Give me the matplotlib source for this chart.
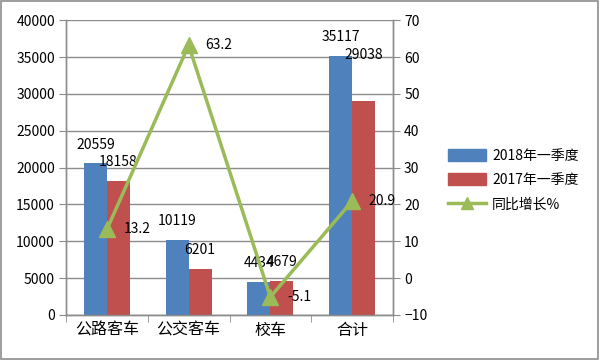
import numpy as np
import matplotlib
matplotlib.use("Agg")
import matplotlib.pyplot as plt
from matplotlib.patches import Rectangle
from matplotlib.lines import Line2D
from matplotlib.patches import Patch

plt.rcParams['font.family'] = ['Noto Sans CJK SC', 'DejaVu Sans']

categories = ['公路客车', '公交客车', '校车', '合计']
sales_2018 = [20559, 10119, 4434, 35117]
sales_2017 = [18158, 6201, 4679, 29038]
growth = [13.2, 63.2, -5.1, 20.9]

series_names = ['2018年一季度', '2017年一季度', '同比增长%']

# label offsets above bar tops, in points
offs_2018 = [13, 14, 14, 14]
offs_2017 = [14, 14, 13, 33]

blue = '#4F81BD'
red = '#C0504D'
green = '#9BBB59'
grid_col = '#8C8C8C'

fig = plt.figure(figsize=(6, 3.6), dpi=100)
ax = fig.add_axes([0.11, 0.125, 0.545, 0.819])
ax2 = ax.twinx()

x = np.arange(len(categories))
w = 0.28
ax.bar(x - w / 2, sales_2018, w, color=blue, zorder=3)
ax.bar(x + w / 2, sales_2017, w, color=red, zorder=3)

ax.set_ylim(0, 40000)
ax.set_yticks(np.arange(0, 40001, 5000))
ax.set_xlim(-0.5, len(categories) - 0.5)
ax.set_xticks(x)
ax.set_xticklabels(categories, fontsize=11.5)
ax.set_xticks(np.arange(-0.5, len(categories)), minor=True)
ax.tick_params(axis='x', which='major', length=0, pad=5)
ax.tick_params(axis='x', which='minor', length=5, color=grid_col)
ax.tick_params(axis='y', length=5, color=grid_col, labelsize=10, pad=3)
ax.grid(axis='y', color=grid_col, linewidth=1, zorder=0)

for a in (ax, ax2):
    a.spines['top'].set_visible(False)
    for s in ('left', 'right', 'bottom'):
        a.spines[s].set_color(grid_col)
        a.spines[s].set_linewidth(1)

for xi, v, o in zip(x, sales_2018, offs_2018):
    ax.annotate(str(v), (xi - w / 2, v), xytext=(0, o), textcoords='offset points',
                ha='center', va='center', fontsize=10, zorder=5)
for xi, v, o in zip(x, sales_2017, offs_2017):
    ax.annotate(str(v), (xi + w / 2, v), xytext=(0, o), textcoords='offset points',
                ha='center', va='center', fontsize=10, zorder=5)

ax2.plot(x, growth, color=green, linewidth=2.5, marker='^', markersize=11,
         zorder=4)
ax2.set_ylim(-10, 70)
ax2.set_yticks(np.arange(-10, 71, 10))
ax2.tick_params(axis='y', length=5, color=grid_col, labelsize=10, pad=3)
for xi, v in zip(x, growth):
    ax2.annotate(str(v), (xi, v), xytext=(12, 0), textcoords='offset points',
                 ha='left', va='center', fontsize=10)

handles = [Patch(color=blue), Patch(color=red),
           Line2D([], [], color=green, linewidth=2.5, marker='^', markersize=9)]
fig.legend(handles, series_names, loc='center left', bbox_to_anchor=(0.725, 0.5),
           frameon=False, fontsize=10, handlelength=2.8, handleheight=0.9,
           labelspacing=0.75, handletextpad=0.4)

fig.patches.append(Rectangle((0.002, 0.003), 0.995, 0.993, transform=fig.transFigure,
                             fill=False, edgecolor='#8C8C8C', linewidth=1.2))

fig.savefig('out.png', dpi=100)
